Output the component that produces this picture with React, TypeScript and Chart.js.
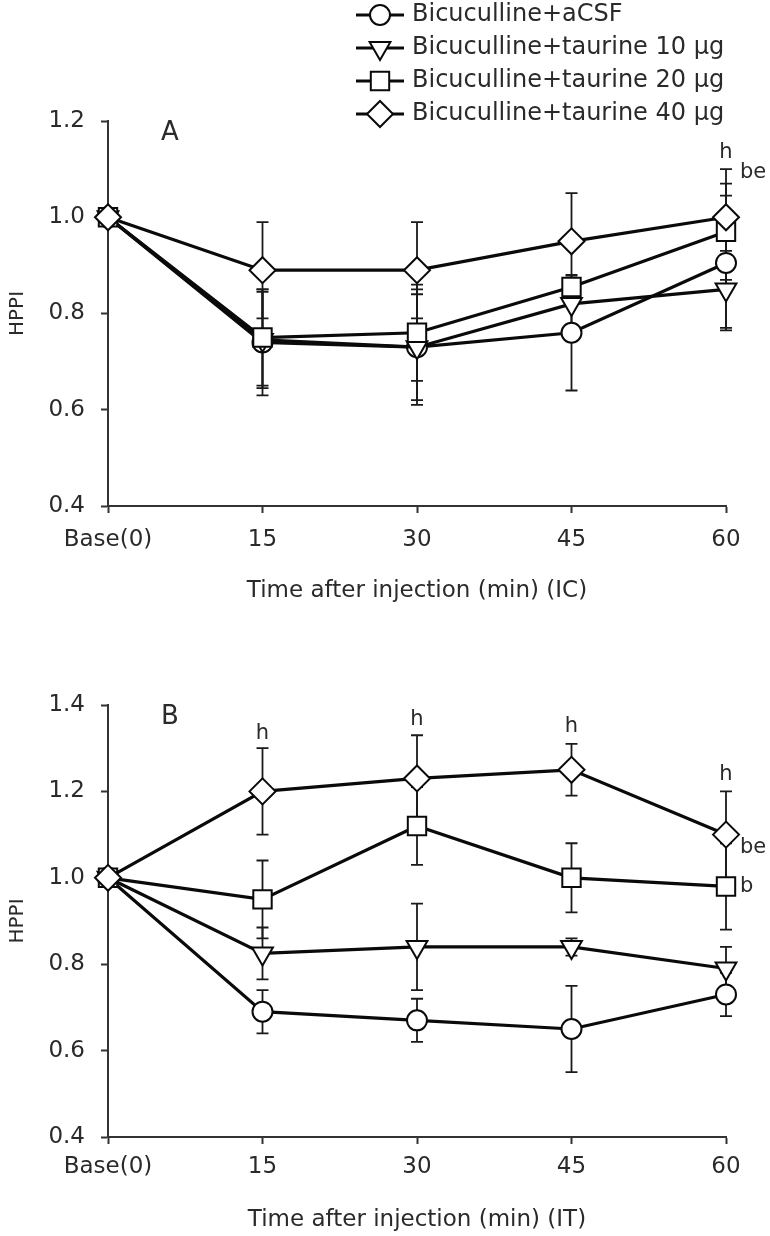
import React, { useEffect, useRef } from 'react';
import { Chart, registerables } from 'chart.js';
import { drawPoint } from 'chart.js/helpers';

Chart.register(...registerables);

// ---------- data ----------
const timeLabels = ['Base(0)', '15', '30', '45', '60'];
const seriesNames = [
  'Bicuculline+aCSF',
  'Bicuculline+taurine 10 µg',
  'Bicuculline+taurine 20 µg',
  'Bicuculline+taurine 40 µg',
];
const seriesStyles = ['circle', 'triangle', 'rect', 'rectRot'];

// Panel A (IC)
const icACSF = [1.0, 0.74, 0.73, 0.76, 0.905];
const icACSFErr = [0, 0.11, 0.12, 0.12, 0.14];
const icT10 = [1.0, 0.745, 0.73, 0.82, 0.85];
const icT10Err = [0, 0.1, 0.11, 0.05, 0.08];
const icT20 = [1.0, 0.75, 0.76, 0.855, 0.97];
const icT20Err = [0, 0.1, 0.1, 0.02, 0.1];
const icT40 = [1.0, 0.89, 0.89, 0.95, 1.0];
const icT40Err = [0, 0.1, 0.1, 0.1, 0.1];
const icYTicks = [0.4, 0.6, 0.8, 1.0, 1.2];
const icNoteText = ['h', 'be'];
const icNoteIndex = [4, 4];
const icNoteValue = [1.135, 1.092];

// Panel B (IT)
const itACSF = [1.0, 0.69, 0.67, 0.65, 0.73];
const itACSFErr = [0, 0.05, 0.05, 0.1, 0.05];
const itT10 = [1.0, 0.825, 0.84, 0.84, 0.79];
const itT10Err = [0, 0.06, 0.1, 0.02, 0.05];
const itT20 = [1.0, 0.95, 1.12, 1.0, 0.98];
const itT20Err = [0, 0.09, 0.09, 0.08, 0.1];
const itT40 = [1.0, 1.2, 1.23, 1.25, 1.1];
const itT40Err = [0, 0.1, 0.1, 0.06, 0.1];
const itYTicks = [0.4, 0.6, 0.8, 1.0, 1.2, 1.4];
const itNoteText = ['h', 'h', 'h', 'h', 'be', 'b'];
const itNoteIndex = [1, 2, 3, 4, 4, 4];
const itNoteValue = [1.333, 1.367, 1.349, 1.24, 1.07, 0.98];

// ---------- styling ----------
const FONT = "'DejaVu Sans', 'Liberation Sans', sans-serif";
const TEXT = '#2a2a2a';
const INK = '#0a0a0a';
const pointRadii = [10, 12, 13, 13];

function makePanel(opts: {
  canvas: HTMLCanvasElement;
  values: number[][];
  errors: number[][];
  yTicks: number[];
  yMin: number;
  yMax: number;
  padTop: number;
  xAxisHeight: number;
  xTickPad: number;
  xTitlePadBottom: number;
  xTitle: string;
  panelLabel: string;
  noteText: string[];
  noteIndex: number[];
  noteValue: number[];
  legend: boolean;
}) {
  const errorBars = {
    id: 'errorBars',
    beforeDatasetsDraw(chart: any) {
      const { ctx } = chart;
      const x = chart.scales.x;
      const y = chart.scales.y;
      ctx.save();
      ctx.strokeStyle = '#1a1a1a';
      ctx.lineWidth = 1.8;
      opts.values.forEach((vals, di) => {
        vals.forEach((v, i) => {
          const e = opts.errors[di][i];
          if (!e) return;
          const px = x.getPixelForValue(i);
          const yt = y.getPixelForValue(v + e);
          const yb = y.getPixelForValue(v - e);
          ctx.beginPath();
          ctx.moveTo(px, yt);
          ctx.lineTo(px, yb);
          ctx.moveTo(px - 6, yt);
          ctx.lineTo(px + 6, yt);
          ctx.moveTo(px - 6, yb);
          ctx.lineTo(px + 6, yb);
          ctx.stroke();
        });
      });
      ctx.restore();
    },
  };

  const notes = {
    id: 'notes',
    afterDraw(chart: any) {
      const { ctx, chartArea } = chart;
      const x = chart.scales.x;
      const y = chart.scales.y;
      ctx.save();
      ctx.fillStyle = TEXT;
      ctx.font = `21px ${FONT}`;
      ctx.textBaseline = 'middle';
      opts.noteText.forEach((t, k) => {
        const px = x.getPixelForValue(opts.noteIndex[k]);
        const py = y.getPixelForValue(opts.noteValue[k]);
        if (t === 'h') {
          ctx.textAlign = 'center';
          ctx.fillText(t, px, py);
        } else {
          ctx.textAlign = 'left';
          ctx.fillText(t, px + 14, py);
        }
      });
      // panel letter
      ctx.font = `26px ${FONT}`;
      ctx.textAlign = 'center';
      ctx.fillText(opts.panelLabel, chartArea.left + 62, chartArea.top + 12);

      if (opts.legend) {
        ctx.font = `24px ${FONT}`;
        seriesNames.forEach((name, i) => {
          const yy = 15 + i * 33;
          ctx.strokeStyle = INK;
          ctx.lineWidth = 3.2;
          ctx.beginPath();
          ctx.moveTo(356, yy);
          ctx.lineTo(404, yy);
          ctx.stroke();
          ctx.fillStyle = '#fff';
          ctx.strokeStyle = INK;
          ctx.lineWidth = 2;
          drawPoint(
            ctx,
            {
              pointStyle: seriesStyles[i],
              rotation: seriesStyles[i] === 'triangle' ? 180 : 0,
              radius: pointRadii[i],
              borderWidth: 2,
            } as any,
            380,
            yy
          );
          ctx.fillStyle = TEXT;
          ctx.textAlign = 'left';
          ctx.textBaseline = 'middle';
          ctx.fillText(name, 412, yy);
        });
      }
      ctx.restore();
    },
  };

  const datasets = opts.values.map((vals, i) => ({
    label: seriesNames[i],
    data: vals,
    borderColor: INK,
    borderWidth: 3.2,
    pointStyle: seriesStyles[i],
    pointRotation: seriesStyles[i] === 'triangle' ? 180 : 0,
    pointRadius: pointRadii[i],
    pointBackgroundColor: '#fff',
    pointBorderColor: INK,
    pointBorderWidth: 2,
    tension: 0,
    clip: false as any,
    order: 3 - i,
  }));

  return new Chart(opts.canvas, {
    type: 'line',
    data: { labels: timeLabels, datasets },
    plugins: [errorBars, notes],
    options: {
      animation: false,
      responsive: false,
      devicePixelRatio: 1,
      events: [],
      layout: {
        autoPadding: false,
        padding: { top: opts.padTop, right: 44, bottom: 0, left: 0 },
      },
      plugins: {
        legend: { display: false },
        tooltip: { enabled: false },
        title: { display: false },
      },
      scales: {
        x: {
          type: 'category',
          offset: false,
          afterFit: (s: any) => {
            s.height = opts.xAxisHeight;
          },
          border: { display: true, color: '#333', width: 2 },
          grid: {
            display: true,
            drawOnChartArea: false,
            drawTicks: true,
            tickLength: 7,
            tickWidth: 2,
            tickColor: '#333',
          },
          ticks: {
            color: TEXT,
            font: { family: FONT, size: 23 },
            padding: opts.xTickPad,
            maxRotation: 0,
            autoSkip: false,
          },
          title: {
            display: true,
            text: opts.xTitle,
            color: TEXT,
            font: { family: FONT, size: 23 },
            padding: { top: 0, bottom: opts.xTitlePadBottom },
          },
        },
        y: {
          type: 'linear',
          min: opts.yMin,
          max: opts.yMax,
          afterFit: (s: any) => {
            s.width = 108;
          },
          afterBuildTicks: (s: any) => {
            s.ticks = opts.yTicks.map((v) => ({ value: v }));
          },
          border: { display: true, color: '#333', width: 2 },
          grid: {
            display: true,
            drawOnChartArea: false,
            drawTicks: true,
            tickLength: 7,
            tickWidth: 2,
            tickColor: '#333',
          },
          ticks: {
            color: TEXT,
            font: { family: FONT, size: 23 },
            padding: 16,
            callback: (v: any) => Number(v).toFixed(1),
          },
          title: {
            display: true,
            text: 'HPPI',
            color: TEXT,
            font: { family: FONT, size: 20 },
            padding: { top: 6, bottom: 0 },
          },
        },
      },
    } as any,
  });
}

export default function App() {
  const refA = useRef<HTMLCanvasElement>(null);
  const refB = useRef<HTMLCanvasElement>(null);

  useEffect(() => {
    if (!refA.current || !refB.current) return;
    const a = makePanel({
      canvas: refA.current,
      values: [icACSF, icT10, icT20, icT40],
      errors: [icACSFErr, icT10Err, icT20Err, icT40Err],
      yTicks: icYTicks,
      yMin: 0.4,
      yMax: 1.2,
      padTop: 121,
      xAxisHeight: 114,
      xTickPad: 13,
      xTitlePadBottom: 15,
      xTitle: 'Time after injection (min) (IC)',
      panelLabel: 'A',
      noteText: icNoteText,
      noteIndex: icNoteIndex,
      noteValue: icNoteValue,
      legend: true,
    });
    const b = makePanel({
      canvas: refB.current,
      values: [itACSF, itT10, itT20, itT40],
      errors: [itACSFErr, itT10Err, itT20Err, itT40Err],
      yTicks: itYTicks,
      yMin: 0.4,
      yMax: 1.4,
      padTop: 85,
      xAxisHeight: 99,
      xTickPad: 9,
      xTitlePadBottom: 2,
      xTitle: 'Time after injection (min) (IT)',
      panelLabel: 'B',
      noteText: itNoteText,
      noteIndex: itNoteIndex,
      noteValue: itNoteValue,
      legend: false,
    });
    return () => {
      a.destroy();
      b.destroy();
    };
  }, []);

  return (
    <div style={{ position: 'absolute', left: 0, top: 0, width: 770, height: 1236, background: '#fff' }}>
      <canvas ref={refA} width={770} height={620} style={{ display: 'block', width: 770, height: 620 }} />
      <canvas ref={refB} width={770} height={616} style={{ display: 'block', width: 770, height: 616 }} />
    </div>
  );
}
